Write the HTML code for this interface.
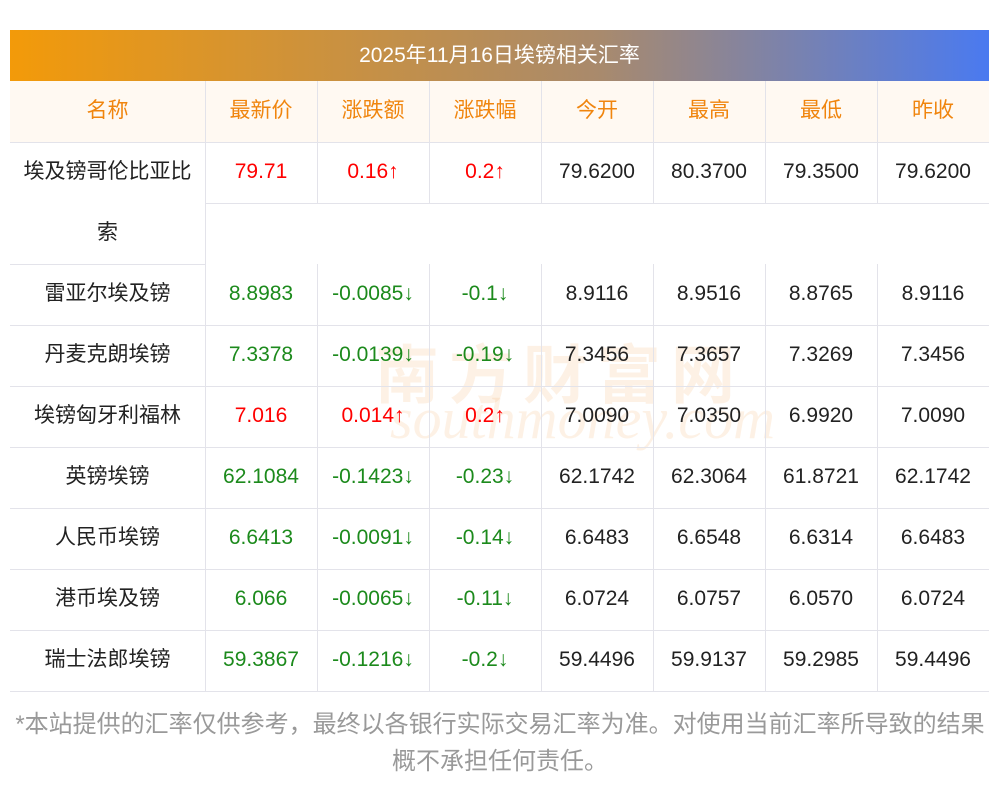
<!DOCTYPE html><html><head><meta charset="utf-8"><style>
body{margin:0;width:1000px;height:793px;background:#fff;position:relative;font-family:"Liberation Sans","Noto Sans CJK SC",sans-serif;overflow:hidden}
.t{position:absolute;left:10px;top:30px;width:979px;height:51px;background:linear-gradient(90deg,#f39a09,#a98a6c 60%,#4a7af0);color:#fff;font-size:21px;line-height:51px;text-align:center}
.c{position:absolute;font-size:21px;text-align:center;height:61px;line-height:59px;color:#222}
.h{color:#f0850e}.r{color:#f00}.g{color:#1c8a1c}
.hl{position:absolute;height:1px;background:#e3e3ea}.vl{position:absolute;width:1px;background:#e3e3ea}
.wm{position:absolute;left:375px;top:325px;font-size:64px;color:rgba(240,140,40,0.12);font-weight:bold;letter-spacing:10px}
.wm2{position:absolute;left:390px;top:385px;font-size:58px;color:rgba(240,140,40,0.12);font-style:italic;font-family:"Liberation Serif",serif}
.f{position:absolute;left:0;top:706px;width:1000px;text-align:center;font-size:24px;line-height:37px;color:#999}
</style></head><body>
<div class="t">2025年11月16日埃镑相关汇率</div>
<div style="position:absolute;left:10px;top:81px;width:979px;height:61px;background:#fff9f2"></div>
<div class="wm">南方财富网</div><div class="wm2">southmoney.com</div>
<div id="g"></div>
<div class="f">*本站提供的汇率仅供参考，最终以各银行实际交易汇率为准。对使用当前汇率所导致的结果<br>概不承担任何责任。</div>
<script>
const xs=[10,205,317,429,541,653,765,877,989];
let h='';
function cell(i,y,t,cl){h+=`<div class="c ${cl||''}" style="left:${xs[i]}px;top:${y}px;width:${xs[i+1]-xs[i]}px">${t}</div>`}
["名称","最新价","涨跌额","涨跌幅","今开","最高","最低","昨收"].forEach((t,i)=>cell(i,81,t,'h'));
const rows=[
["雷亚尔埃及镑","8.8983","-0.0085↓","-0.1↓","8.9116","8.9516","8.8765","8.9116"],
["丹麦克朗埃镑","7.3378","-0.0139↓","-0.19↓","7.3456","7.3657","7.3269","7.3456"],
["埃镑匈牙利福林","7.016","0.014↑","0.2↑","7.0090","7.0350","6.9920","7.0090"],
["英镑埃镑","62.1084","-0.1423↓","-0.23↓","62.1742","62.3064","61.8721","62.1742"],
["人民币埃镑","6.6413","-0.0091↓","-0.14↓","6.6483","6.6548","6.6314","6.6483"],
["港币埃及镑","6.066","-0.0065↓","-0.11↓","6.0724","6.0757","6.0570","6.0724"],
["瑞士法郎埃镑","59.3867","-0.1216↓","-0.2↓","59.4496","59.9137","59.2985","59.4496"]];
cell(0,142,"埃及镑哥伦比亚比");cell(0,203,"索");
["79.71","0.16↑","0.2↑"].forEach((t,i)=>cell(i+1,142,t,'r'));
["79.6200","80.3700","79.3500","79.6200"].forEach((t,i)=>cell(i+4,142,t));
h+=`<div class="hl" style="left:10px;top:142px;width:979px"></div><div class="hl" style="left:205px;top:203px;width:784px"></div>`;
for(let i=1;i<8;i++){h+=`<div class="vl" style="left:${xs[i]}px;top:81px;height:122px"></div>`;}
h+=`<div class="vl" style="left:205px;top:203px;height:61px"></div>`;
rows.forEach((r,k)=>{const y=264+k*61;const up=r[2].includes('↑');
r.forEach((t,i)=>cell(i,y,t,i>=1&&i<=3?(up?'r':'g'):''));
h+=`<div class="hl" style="left:10px;top:${y}px;width:${k==0?195:979}px"></div>`;
for(let i=1;i<8;i++)h+=`<div class="vl" style="left:${xs[i]}px;top:${y}px;height:61px"></div>`;});
h+=`<div class="hl" style="left:10px;top:691px;width:979px"></div>`;
document.getElementById('g').innerHTML=h;
</script></body></html>
